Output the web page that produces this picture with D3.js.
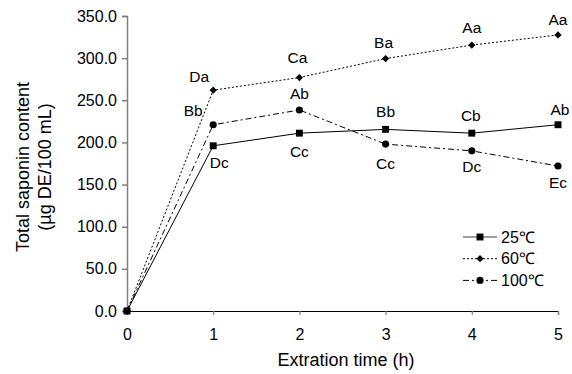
<!DOCTYPE html>
<html>
<head>
<meta charset="utf-8">
<script src="https://cdn.jsdelivr.net/npm/d3@7"></script>
<style>
  body { margin: 0; background: #fff; }
  svg { font-family: "Liberation Sans", Arial, sans-serif; }
</style>
</head>
<body>
<div id="chart"></div>
<script>
// data
const hours = [0, 1, 2, 3, 4, 5];
const yTicks = [0, 50, 100, 150, 200, 250, 300, 350];
const seriesNames = ["25℃", "60℃", "100℃"];
const vals25 = [0, 196, 211, 215.5, 211, 221];
const vals60 = [0, 262, 277, 299.5, 315.5, 327.5];
const vals100 = [0, 221, 238.5, 198, 190, 172];
const letters25 = ["", "Dc", "Cc", "Bb", "Cb", "Ab"];
const letters60 = ["", "Da", "Ca", "Ba", "Aa", "Aa"];
const letters100 = ["", "Bb", "Ab", "Cc", "Dc", "Ec"];

const width = 572, height = 374;
const margin = {top: 16, right: 14, bottom: 63, left: 127};

const svg = d3.select("#chart").append("svg")
    .attr("width", width)
    .attr("height", height);

const x = d3.scaleLinear().domain([0, 5]).range([margin.left, width - margin.right]);
const y = d3.scaleLinear().domain([0, 350]).range([height - margin.bottom, margin.top]);

// axes
const yAxis = svg.append("g")
    .attr("transform", "translate(" + margin.left + ",0)")
    .call(d3.axisLeft(y).tickValues(yTicks).tickFormat(d3.format(".1f")).tickSize(5).tickPadding(5));
yAxis.select(".domain").attr("stroke", "#7f7f7f").attr("stroke-width", 1.5);
yAxis.selectAll(".tick line").attr("stroke", "#7f7f7f").attr("stroke-width", 1.5);
yAxis.selectAll("text").attr("font-size", 16).attr("fill", "#000").attr("font-family", "Liberation Sans, Arial, sans-serif");

const xAxis = svg.append("g")
    .attr("transform", "translate(0," + y(0) + ")")
    .call(d3.axisBottom(x).tickValues(hours).tickFormat(d3.format("d")).tickSizeOuter(0).tickSize(4).tickPadding(14));
xAxis.select(".domain").attr("stroke", "#000").attr("stroke-width", 1.2);
xAxis.selectAll(".tick line").attr("stroke", "#7f7f7f").attr("stroke-width", 1.2);
xAxis.selectAll("text").attr("font-size", 16).attr("fill", "#000").attr("font-family", "Liberation Sans, Arial, sans-serif");

// axis titles
svg.append("text")
    .attr("x", 346).attr("y", 366)
    .attr("text-anchor", "middle")
    .attr("font-size", 18)
    .text("Extration time (h)");

const yTitle = svg.append("text")
    .attr("transform", "translate(0,167) rotate(-90)")
    .attr("text-anchor", "middle")
    .attr("font-size", 18);
yTitle.append("tspan").attr("x", 0).attr("y", 29).text("Total saponin content");
yTitle.append("tspan").attr("x", 0).attr("y", 51).text("(µg DE/100 mL)");

// series definitions
const series = [
  {name: seriesNames[2], values: vals100, letters: letters100, dash: "6,3,2,3", marker: "circle",
   labelDy: [0, -14, -17, 19, 16, 16], labelDx: [0, -20, 0, 0, 0, 0]},
  {name: seriesNames[1], values: vals60, letters: letters60, dash: "2,2", marker: "diamond",
   labelDy: [0, -14, -20, -16, -18, -16], labelDx: [0, -14, -2, -2, 0, 0]},
  {name: seriesNames[0], values: vals25, letters: letters25, dash: null, marker: "square",
   labelDy: [0, 17, 18, -18, -18, -15], labelDx: [0, 6, 0, 0, -1, 2]}
];

const symbols = {
  circle: {d: d3.symbol().type(d3.symbolCircle).size(40)(), rot: 0},
  diamond: {d: d3.symbol().type(d3.symbolSquare).size(26)(), rot: 45},
  square: {d: d3.symbol().type(d3.symbolSquare).size(48)(), rot: 0}
};

const line = d3.line()
    .x((d, i) => x(hours[i]))
    .y(d => y(d));

series.forEach(s => {
  svg.append("path")
      .datum(s.values)
      .attr("fill", "none")
      .attr("stroke", "#000")
      .attr("stroke-width", 1)
      .attr("stroke-dasharray", s.dash)
      .attr("d", line);
});

series.forEach(s => {
  const sym = symbols[s.marker];
  svg.selectAll(null)
      .data(s.values)
      .enter()
      .append("path")
      .attr("d", sym.d)
      .attr("transform", (d, i) => "translate(" + x(hours[i]) + "," + y(d) + ") rotate(" + sym.rot + ")")
      .attr("fill", "#000");

  svg.selectAll(null)
      .data(s.letters)
      .enter()
      .append("text")
      .attr("x", (d, i) => x(hours[i]) + s.labelDx[i])
      .attr("y", (d, i) => y(s.values[i]) + s.labelDy[i])
      .attr("dy", "0.36em")
      .attr("text-anchor", "middle")
      .attr("font-size", 15.5)
      .text(d => d);
});

// legend
const legendOrder = [series[2], series[1], series[0]];
const legend = svg.append("g").attr("transform", "translate(463,237)");
legendOrder.forEach((s, i) => {
  const sym = symbols[s.marker];
  const g = legend.append("g").attr("transform", "translate(0," + i * 21.7 + ")");
  g.append("line")
      .attr("x1", 0).attr("x2", 34)
      .attr("stroke", s.dash ? "#000" : "#7f7f7f")
      .attr("stroke-width", s.dash ? 1 : 1.5)
      .attr("stroke-dasharray", s.dash);
  g.append("path")
      .attr("d", sym.d)
      .attr("transform", "translate(17,0) rotate(" + sym.rot + ")")
      .attr("fill", "#000");
  g.append("text")
      .attr("x", 38).attr("dy", "0.36em")
      .attr("font-size", 16)
      .text(s.name);
});
</script>
</body>
</html>
